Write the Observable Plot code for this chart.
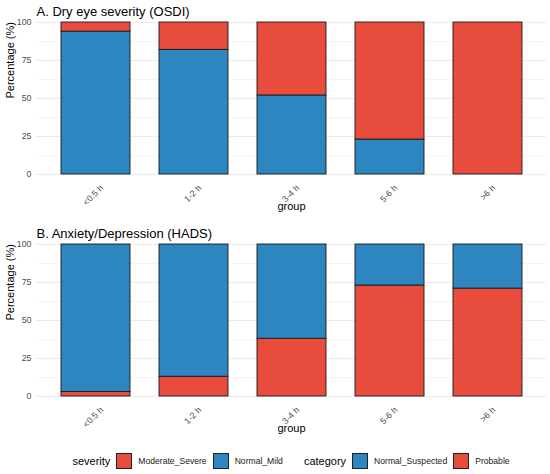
<!DOCTYPE html>
<html>
<head>
<meta charset="utf-8">
<script src="https://cdn.jsdelivr.net/npm/d3@7"></script>
<script src="https://cdn.jsdelivr.net/npm/@observablehq/plot@0.6"></script>
<style>
  html, body { margin: 0; padding: 0; background: #fff; }
  #wrap { position: relative; width: 550px; height: 474px; font-family: "Liberation Sans", Arial, sans-serif; }
  .panel { position: absolute; left: 0; }
  #legend { position: absolute; left: 36px; top: 453px; width: 510px; height: 16px; display: flex; justify-content: center; align-items: center; font-size: 8.6px; color: #1a1a1a; }
  #legend .title { font-size: 11px; color: #000; margin-right: 6px; }
  #legend .key { width: 14px; height: 14px; border: 1px solid #222; margin-right: 6px; }
  #legend .lab { margin-right: 6px; }
  #legend .lab:last-child { margin-right: 0; }
  #legend .gap { width: 15px; }
</style>
</head>
<body>
<div id="wrap">
  <div class="panel" id="pA" style="top:0px"></div>
  <div class="panel" id="pB" style="top:222px"></div>
  <div id="legend"></div>
</div>
<script>
const groups = ["<0.5 h", "1-2 h", "3-4 h", "5-6 h", ">6 h"];
const yTicks = [0, 25, 50, 75, 100];
const yMinor = [12.5, 37.5, 62.5, 87.5];

// Panel A: OSDI severity (%)
const osdiCats = ["Moderate_Severe", "Normal_Mild"];
const osdiNormalMild = [94, 82, 52, 23, 0];
const osdiModerateSevere = [6, 18, 48, 77, 100];

// Panel B: HADS category (%)
const hadsCats = ["Normal_Suspected", "Probable"];
const hadsProbable = [3, 13, 38, 73, 71];
const hadsNormalSuspected = [97, 87, 62, 27, 29];

const RED = "#E74C3C", BLUE = "#2E86C1";

const osdiData = groups.flatMap((g, i) => [
  {group: g, cat: "Normal_Mild", value: osdiNormalMild[i]},
  {group: g, cat: "Moderate_Severe", value: osdiModerateSevere[i]}
]);
const hadsData = groups.flatMap((g, i) => [
  {group: g, cat: "Probable", value: hadsProbable[i]},
  {group: g, cat: "Normal_Suspected", value: hadsNormalSuspected[i]}
]);

function panel(data, title, order, colorDomain, colorRange) {
  return Plot.plot({
    width: 550,
    height: 222,
    marginTop: 22,
    marginBottom: 48,
    marginLeft: 36,
    marginRight: 4,
    style: {fontFamily: "'Liberation Sans', Arial, sans-serif", background: "#fff"},
    x: {domain: groups, paddingInner: 0.3, paddingOuter: 0.25, label: null},
    y: {domain: [0, 100], label: null},
    color: {domain: colorDomain, range: colorRange},
    marks: [
      Plot.gridY(yMinor, {stroke: "#ebebeb", strokeOpacity: 1, strokeWidth: 0.5}),
      Plot.gridY(yTicks, {stroke: "#ebebeb", strokeOpacity: 1, strokeWidth: 1}),
      Plot.barY(data, Plot.stackY({x: "group", y: "value", fill: "cat", order: order, stroke: "#1a1a1a", strokeWidth: 0.9})),
      Plot.axisY({ticks: yTicks, tickSize: 0, tickPadding: 5, fontSize: 8.8, color: "#4d4d4d", label: null}),
      Plot.axisX({tickSize: 0, tickRotate: -45, tickPadding: 12, dx: 6, fontSize: 8.8, color: "#4d4d4d", label: null}),
      Plot.text(["group"], {text: d => d, frameAnchor: "bottom", dy: 35, fontSize: 11, fill: "#000"}),
      Plot.text(["Percentage (%)"], {text: d => d, frameAnchor: "left", dx: -26, rotate: -90, fontSize: 11, fill: "#000"}),
      Plot.text([title], {text: d => d, frameAnchor: "top-left", dy: -7, textAnchor: "start", lineAnchor: "bottom", fontSize: 13, fill: "#000"})
    ]
  });
}

document.getElementById("pA").appendChild(
  panel(osdiData, "A. Dry eye severity (OSDI)", ["Normal_Mild", "Moderate_Severe"], osdiCats, [RED, BLUE]));
document.getElementById("pB").appendChild(
  panel(hadsData, "B. Anxiety/Depression (HADS)", ["Probable", "Normal_Suspected"], hadsCats, [BLUE, RED]));

// Legend
const legend = document.getElementById("legend");
function addLegend(title, cats, cols) {
  const t = document.createElement("span"); t.className = "title"; t.textContent = title; legend.appendChild(t);
  cats.forEach((c, i) => {
    const k = document.createElement("span"); k.className = "key"; k.style.background = cols[i]; legend.appendChild(k);
    const l = document.createElement("span"); l.className = "lab"; l.textContent = c; legend.appendChild(l);
  });
}
addLegend("severity", osdiCats, [RED, BLUE]);
const g = document.createElement("span"); g.className = "gap"; legend.appendChild(g);
addLegend("category", hadsCats, [BLUE, RED]);
</script>
</body>
</html>
